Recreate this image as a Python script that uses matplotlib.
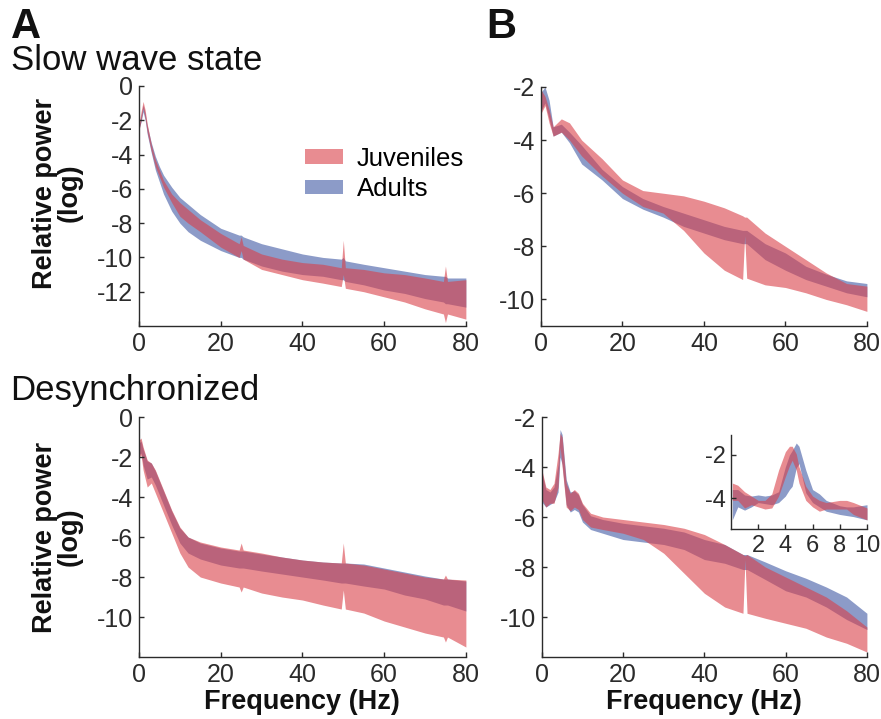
import matplotlib
matplotlib.use("Agg")
import matplotlib.pyplot as plt
from matplotlib.patches import Patch

plt.rcParams['font.family'] = ['Liberation Sans', 'DejaVu Sans']
plt.rcParams['axes.unicode_minus'] = False

juv_color = '#d93f48'
adu_color = '#8c9bc8'
ink = '#2b2b2b'

# Slow wave state, full range
sws_freq = [0, 0.5, 1, 1.5, 2, 3, 4, 5, 6, 8, 10, 12, 15, 20, 24.5, 25, 25.5, 30, 35, 40, 45, 49.5, 50, 50.5, 55, 60, 65, 70, 74.5, 75, 75.5, 80]
sws_juv_hi = [-2.2, -1.5, -0.9, -1.4, -2.2, -3.4, -4.3, -4.9, -5.5, -6.3, -6.8, -7.2, -7.8, -8.6, -9.2, -8.8, -9.3, -9.8, -10.1, -10.3, -10.4, -10.6, -9.0, -10.6, -10.7, -10.9, -11.0, -11.2, -11.4, -10.5, -11.4, -11.3]
sws_juv_lo = [-2.6, -2.0, -1.3, -1.9, -2.7, -3.8, -4.7, -5.3, -5.9, -6.8, -7.6, -8.0, -8.5, -9.4, -10.0, -9.6, -10.1, -10.7, -11.0, -11.3, -11.5, -11.7, -11.0, -11.8, -12.0, -12.3, -12.6, -13.0, -13.3, -13.8, -13.3, -13.6]
sws_adu_hi = [-2.3, -1.7, -1.1, -1.6, -2.3, -3.3, -4.1, -4.7, -5.2, -5.9, -6.5, -6.9, -7.5, -8.3, -8.7, -8.7, -8.8, -9.2, -9.5, -9.8, -10.0, -10.1, -10.0, -10.2, -10.4, -10.6, -10.8, -11.0, -11.1, -11.1, -11.2, -11.2]
sws_adu_lo = [-2.5, -2.1, -1.5, -2.0, -2.8, -3.9, -4.9, -5.6, -6.3, -7.3, -8.0, -8.5, -9.0, -9.6, -10.0, -10.0, -10.1, -10.5, -10.8, -11.0, -11.1, -11.3, -11.3, -11.4, -11.6, -11.9, -12.1, -12.4, -12.6, -12.7, -12.7, -12.9]

# Slow wave state, normalised (panel B)
swsb_freq = [0, 1, 2, 3, 5, 7, 10, 15, 20, 25, 30, 35, 40, 45, 49.5, 50, 50.5, 55, 60, 65, 70, 75, 80]
swsb_juv_hi = [-2.1, -2.35, -2.85, -3.5, -3.2, -3.35, -4.0, -4.7, -5.5, -5.9, -6.0, -6.1, -6.3, -6.55, -6.85, -6.9, -6.9, -7.5, -8.0, -8.5, -9.0, -9.4, -9.5]
swsb_juv_lo = [-3.0, -2.7, -3.35, -3.85, -3.7, -4.0, -4.6, -5.35, -6.0, -6.5, -6.75, -7.4, -8.25, -8.9, -9.25, -7.6, -9.2, -9.45, -9.55, -9.75, -10.0, -10.2, -10.45]
swsb_adu_hi = [-2.2, -2.0, -2.5, -3.5, -3.4, -3.7, -4.2, -5.1, -5.75, -6.2, -6.5, -6.75, -7.0, -7.25, -7.4, -7.4, -7.4, -7.9, -8.25, -8.75, -9.05, -9.3, -9.4]
swsb_adu_lo = [-2.9, -2.6, -3.2, -3.85, -3.7, -4.1, -4.9, -5.5, -6.2, -6.6, -6.9, -7.25, -7.5, -7.75, -7.9, -7.9, -7.9, -8.5, -8.9, -9.25, -9.5, -9.75, -9.9]

# Desynchronized, full range
des_freq = [0, 0.5, 1, 2, 3, 4, 6, 8, 10, 12, 15, 20, 24.5, 25, 25.5, 30, 35, 40, 45, 49.5, 50, 50.5, 55, 60, 65, 70, 74.5, 75, 75.5, 80]
des_juv_hi = [-1.15, -1.05, -1.5, -2.15, -2.3, -2.65, -3.65, -4.65, -5.5, -6.0, -6.25, -6.5, -6.65, -6.3, -6.65, -6.8, -7.0, -7.15, -7.25, -7.3, -6.3, -7.3, -7.4, -7.6, -7.8, -8.0, -8.1, -7.9, -8.1, -8.15]
des_juv_lo = [-2.0, -1.9, -2.65, -3.5, -3.3, -3.8, -4.8, -5.8, -6.8, -7.5, -8.0, -8.3, -8.5, -8.75, -8.5, -8.8, -9.0, -9.15, -9.4, -9.6, -8.65, -9.6, -9.8, -10.2, -10.5, -10.8, -11.0, -11.25, -11.0, -11.5]
des_adu_hi = [-1.3, -1.2, -1.6, -2.2, -2.3, -2.7, -3.7, -4.7, -5.55, -6.0, -6.3, -6.55, -6.7, -6.7, -6.7, -6.85, -7.0, -7.15, -7.25, -7.3, -7.3, -7.3, -7.35, -7.55, -7.75, -7.95, -8.1, -8.1, -8.1, -8.2]
des_adu_lo = [-1.9, -1.8, -2.4, -3.1, -3.0, -3.4, -4.4, -5.4, -6.3, -6.8, -7.1, -7.4, -7.55, -7.55, -7.55, -7.7, -7.85, -8.0, -8.15, -8.3, -8.3, -8.3, -8.45, -8.6, -8.9, -9.1, -9.4, -9.4, -9.4, -9.7]

# Desynchronized, normalised (panel B)
desb_freq = [0, 1, 2, 3, 4, 4.5, 5, 6, 7, 8, 9, 10, 12, 15, 20, 25, 30, 35, 40, 45, 49.5, 50, 50.5, 55, 60, 65, 70, 75, 80]
desb_juv_hi = [-4.1, -4.8, -4.9, -4.65, -3.45, -2.65, -2.8, -4.65, -5.05, -4.9, -5.05, -5.45, -5.85, -6.0, -6.1, -6.2, -6.3, -6.45, -6.7, -7.1, -7.5, -7.55, -7.5, -8.0, -8.4, -8.8, -9.2, -9.75, -10.4]
desb_juv_lo = [-5.3, -5.6, -5.45, -5.45, -4.8, -3.2, -4.0, -5.6, -5.75, -5.6, -5.7, -6.1, -6.4, -6.5, -6.65, -6.9, -7.45, -8.25, -9.05, -9.6, -9.85, -7.7, -9.85, -10.05, -10.25, -10.45, -10.8, -11.05, -11.4]
desb_adu_hi = [-4.2, -4.9, -5.0, -4.8, -3.9, -2.5, -2.7, -4.5, -5.0, -4.95, -5.1, -5.5, -5.95, -6.1, -6.25, -6.35, -6.45, -6.6, -6.9, -7.1, -7.5, -7.5, -7.5, -7.8, -8.15, -8.45, -8.8, -9.2, -9.85]
desb_adu_lo = [-5.4, -5.6, -5.5, -5.4, -5.0, -3.6, -3.9, -5.5, -5.8, -5.7, -5.8, -6.2, -6.5, -6.65, -6.9, -7.0, -7.1, -7.3, -7.7, -7.85, -8.1, -8.1, -8.1, -8.5, -8.95, -9.2, -9.6, -10.1, -10.5]

# Desynchronized, 0-10 Hz inset
ins_freq = [0.1, 0.5, 1, 1.5, 2, 2.5, 3, 3.5, 4, 4.3, 4.5, 4.8, 5, 5.5, 6, 6.5, 7, 8, 8.5, 9, 10]
ins_juv_hi = [-3.3, -3.4, -3.7, -3.9, -4.1, -4.1, -3.8, -2.7, -1.85, -1.6, -1.6, -1.95, -2.55, -3.45, -3.9, -4.1, -4.2, -4.1, -4.1, -4.2, -4.45]
ins_juv_lo = [-4.1, -4.1, -4.45, -4.3, -4.4, -4.5, -4.45, -3.9, -3.0, -2.5, -2.25, -2.7, -3.3, -4.1, -4.4, -4.6, -4.5, -4.5, -4.5, -4.75, -5.0]
ins_adu_hi = [-3.6, -3.6, -3.85, -3.9, -3.85, -3.9, -3.85, -3.7, -2.55, -2.0, -1.8, -1.45, -1.6, -2.7, -3.6, -3.8, -4.1, -4.35, -4.4, -4.4, -4.3]
ins_adu_lo = [-5.0, -4.4, -4.55, -4.4, -4.2, -4.25, -4.3, -4.2, -3.9, -3.6, -3.45, -2.6, -2.4, -3.75, -4.2, -4.4, -4.6, -4.75, -4.8, -4.85, -5.0]


def style_axes(ax, xlim, ylim, xticks, yticks, size=18):
    ax.set_xlim(xlim)
    ax.set_ylim(ylim)
    ax.set_xticks(xticks)
    ax.set_yticks(yticks)
    ax.set_yticklabels([str(t) for t in yticks])
    ax.spines['top'].set_visible(False)
    ax.spines['right'].set_visible(False)
    for s in ['left', 'bottom']:
        ax.spines[s].set_color(ink)
        ax.spines[s].set_linewidth(1.0)
    ax.tick_params(direction='in', length=3.5, width=1.0, color=ink,
                   labelsize=size, labelcolor=ink, pad=4)
    ax.patch.set_alpha(0)


def draw_bands(ax, freq, adu_lo, adu_hi, juv_lo, juv_hi):
    ax.fill_between(freq, adu_lo, adu_hi, color=adu_color, lw=0)
    ax.fill_between(freq, juv_lo, juv_hi, color=juv_color, alpha=0.6, lw=0)


fig = plt.figure(figsize=(8.81, 7.19), dpi=100)

ax1 = fig.add_axes([0.1578, 0.5466, 0.371, 0.3338])
draw_bands(ax1, sws_freq, sws_adu_lo, sws_adu_hi, sws_juv_lo, sws_juv_hi)
style_axes(ax1, (0, 80), (-14, 0), [0, 20, 40, 60, 80], [-12, -10, -8, -6, -4, -2, 0])

ax2 = fig.add_axes([0.614, 0.5466, 0.370, 0.3324])
draw_bands(ax2, swsb_freq, swsb_adu_lo, swsb_adu_hi, swsb_juv_lo, swsb_juv_hi)
style_axes(ax2, (0, 80), (-11, -2), [0, 20, 40, 60, 80], [-10, -8, -6, -4, -2])

ax3 = fig.add_axes([0.1578, 0.0862, 0.371, 0.3338])
draw_bands(ax3, des_freq, des_adu_lo, des_adu_hi, des_juv_lo, des_juv_hi)
style_axes(ax3, (0, 80), (-12, 0), [0, 20, 40, 60, 80], [-10, -8, -6, -4, -2, 0])

ax4 = fig.add_axes([0.615, 0.0862, 0.369, 0.3338])
draw_bands(ax4, desb_freq, desb_adu_lo, desb_adu_hi, desb_juv_lo, desb_juv_hi)
style_axes(ax4, (0, 80), (-11.6, -2), [0, 20, 40, 60, 80], [-10, -8, -6, -4, -2])

ax5 = fig.add_axes([0.8297, 0.2643, 0.1544, 0.1307])
draw_bands(ax5, ins_freq, ins_adu_lo, ins_adu_hi, ins_juv_lo, ins_juv_hi)
style_axes(ax5, (0, 10), (-5.42, -1.08), [2, 4, 6, 8, 10], [-4, -2], size=17)

handles = [Patch(color=juv_color, alpha=0.6, lw=0), Patch(color=adu_color, lw=0)]
ax1.legend(handles, ['Juveniles', 'Adults'], loc='upper left',
           bbox_to_anchor=(0.47, 0.80), frameon=False, fontsize=18.5,
           handlelength=1.45, handleheight=0.5, handletextpad=0.55,
           labelspacing=0.25, borderpad=0)

fig.text(0.012, 0.947, 'A', fontsize=30, fontweight='bold', color='#111111')
fig.text(0.552, 0.947, 'B', fontsize=30, fontweight='bold', color='#111111')
fig.text(0.012, 0.903, 'Slow wave state', fontsize=25, color='#111111')
fig.text(0.012, 0.444, 'Desynchronized', fontsize=25, color='#111111')

for yc in [0.7316, 0.2531]:
    fig.text(0.0647, yc, 'Relative power\n(log)', rotation=90, ha='center',
             va='center', fontsize=19.5, fontweight='bold', color='#111111',
             linespacing=0.95)

for xc in [0.343, 0.799]:
    fig.text(xc, 0.024, 'Frequency (Hz)', ha='center', va='center',
             fontsize=19.5, fontweight='bold', color='#111111')

fig.savefig('out.png', dpi=100)
